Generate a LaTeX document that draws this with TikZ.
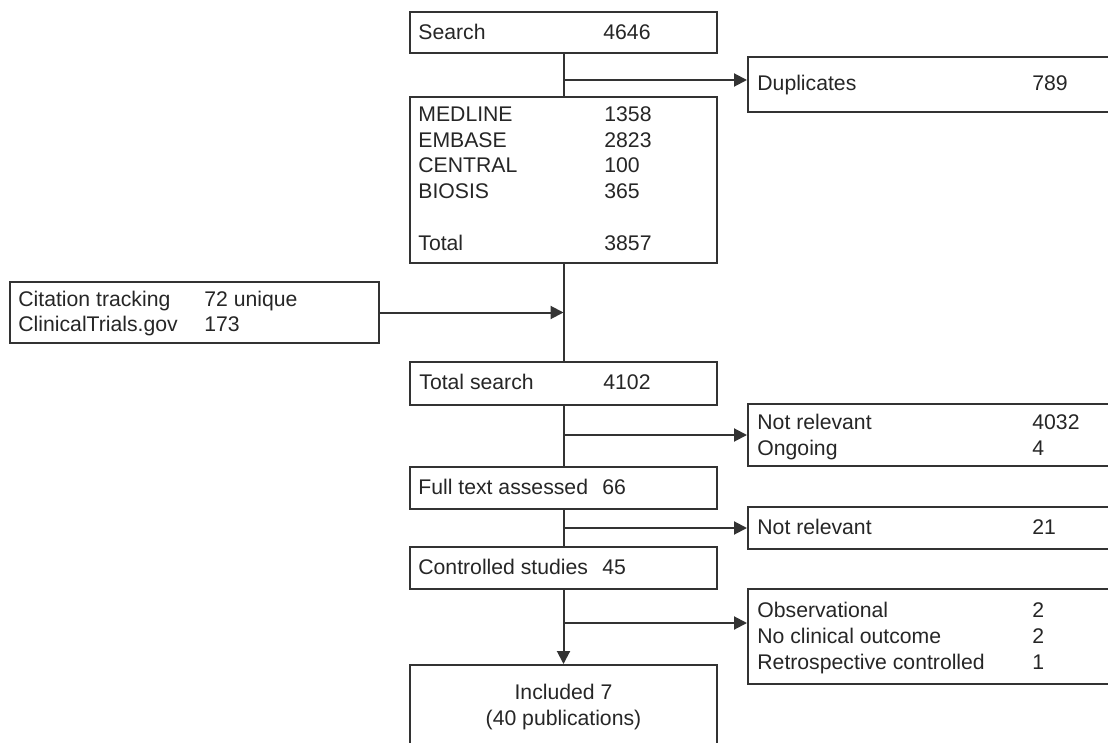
\documentclass[tikz,border=0pt]{standalone}
\usepackage{fontspec}
\setmainfont{Liberation Sans}
\usetikzlibrary{arrows.meta,fit}
\definecolor{ink}{HTML}{333333}
\definecolor{txt}{HTML}{262626}
\begin{document}
\begin{tikzpicture}[x=0.5pt,y=-0.5pt,
  box/.style={draw=ink, line width=1pt, inner sep=0pt},
  lbl/.style={anchor=base west, inner sep=0pt, text=txt, font=\fontsize{10.6pt}{12pt}\selectfont},
  ctr/.style={anchor=base, inner sep=0pt, text=txt, font=\fontsize{10.6pt}{12pt}\selectfont},
  link/.style={draw=ink, line width=1pt},
  arr/.style={link, -{Triangle[length=6.5pt,width=6.5pt]}}
]
\useasboundingbox (0,0) rectangle (1108,743);
\fill[white] (0,0) rectangle (1108,743);
\clip (0,0) rectangle (1108,743);

% boxes
\node[box, fit={(410,12) (717,53)}] (search) {};
\node[box, fit={(748,57) (1116,112)}] (dup) {};
\node[box, fit={(410,97) (717,263)}] (db) {};
\node[box, fit={(10,282) (379,343)}] (cit) {};
\node[box, fit={(410,362) (717,405)}] (tot) {};
\node[box, fit={(748,404) (1116,466)}] (nrA) {};
\node[box, fit={(410,467) (717,509)}] (full) {};
\node[box, fit={(748,507) (1116,549)}] (nrB) {};
\node[box, fit={(410,547) (717,589)}] (ctrl) {};
\node[box, fit={(748,589) (1116,684)}] (obs) {};
\node[box, fit={(410,665) (717,752)}] (incl) {};

% texts
\node[lbl] (tSearch) at (418,39.6) {Search};
\node[lbl] (nSearch) at (603,39.6) {4646};
\node[lbl] (tDup) at (757,90.6) {Duplicates};
\node[lbl] (nDup) at (1032,90.6) {789};

\node[lbl] (tMed) at (418,121.5) {MEDLINE};
\node[lbl] (nMed) at (604,121.5) {1358};
\node[lbl] (tEmb) at (418,147.2) {EMBASE};
\node[lbl] (nEmb) at (604,147.2) {2823};
\node[lbl] (tCen) at (418,172.9) {CENTRAL};
\node[lbl] (nCen) at (604,172.9) {100};
\node[lbl] (tBio) at (418,198.6) {BIOSIS};
\node[lbl] (nBio) at (604,198.6) {365};
\node[lbl] (tTot) at (418,250.2) {Total};
\node[lbl] (nTot) at (604,250.2) {3857};

\node[lbl] (tCit) at (18,306.6) {Citation tracking};
\node[lbl] (nCit) at (204,306.6) {72 unique};
\node[lbl] (tCli) at (18,331.6) {ClinicalTrials.gov};
\node[lbl] (nCli) at (204,331.6) {173};

\node[lbl] (tTS) at (419,389.6) {Total search};
\node[lbl] (nTS) at (603,389.6) {4102};

\node[lbl] (tNrA) at (757,429.6) {Not relevant};
\node[lbl] (nNrA) at (1032,429.6) {4032};
\node[lbl] (tOng) at (757,455.6) {Ongoing};
\node[lbl] (nOng) at (1032,455.6) {4};

\node[lbl] (tFull) at (418,494.6) {Full text assessed};
\node[lbl] (nFull) at (602,494.6) {66};

\node[lbl] (tNrB) at (757,534.6) {Not relevant};
\node[lbl] (nNrB) at (1032,534.6) {21};

\node[lbl] (tCtrl) at (418,574.6) {Controlled studies};
\node[lbl] (nCtrl) at (602,574.6) {45};

\node[lbl] (tObs) at (757,617.6) {Observational};
\node[lbl] (nObs) at (1032,617.6) {2};
\node[lbl] (tNco) at (757,643.6) {No clinical outcome};
\node[lbl] (nNco) at (1032,643.6) {2};
\node[lbl] (tRet) at (757,669.6) {Retrospective controlled};
\node[lbl] (nRet) at (1032,669.6) {1};

\node[ctr] (tInc) at (563.5,699.6) {Included 7};
\node[ctr] (tPub) at (563.5,725.6) {(40 publications)};

% connectors
\coordinate (b1) at (563.5,80);
\coordinate (b2) at (563.5,435);
\coordinate (b3) at (563.5,528);
\coordinate (b4) at (563.5,623);
\coordinate (j1) at (cit.east -| db.south);

\draw[link] (search.south) -- (db.north);
\draw[arr] (b1) -- (b1 -| dup.west);
\draw[link] (db.south) -- (tot.north);
\draw[arr] (cit.east) -- (j1);
\draw[link] (tot.south) -- (full.north);
\draw[arr] (b2) -- (b2 -| nrA.west);
\draw[link] (full.south) -- (ctrl.north);
\draw[arr] (b3) -- (b3 -| nrB.west);
\draw[arr] (ctrl.south) -- (incl.north);
\draw[arr] (b4) -- (b4 -| obs.west);
\end{tikzpicture}
\end{document}
